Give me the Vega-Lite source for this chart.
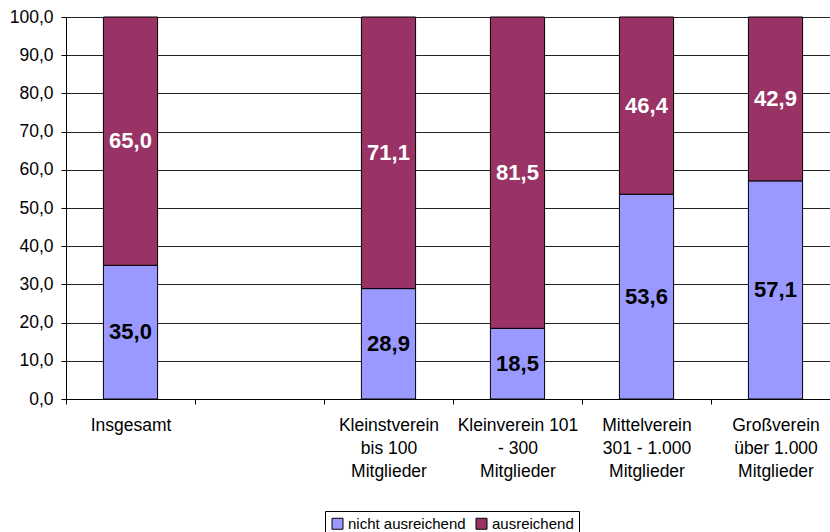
{
  "$schema": "https://vega.github.io/schema/vega-lite/v6.json",
  "width": 764,
  "height": 382,
  "autosize": {"type": "none"},
  "padding": {"left": 66, "top": 17, "right": 0, "bottom": 133},
  "config": {
    "locale": {"number": {"decimal": ",", "thousands": ".", "grouping": [3], "currency": ["", " €"]}},
    "view": {"stroke": null},
    "font": "Liberation Sans",
    "axis": {
      "labelFontSize": 17.5,
      "labelColor": "#000",
      "tickColor": "#000",
      "tickSize": 5,
      "domainColor": "#000",
      "labelOverlap": false,
      "title": null
    },
    "legend": {"labelFontSize": 15, "labelColor": "#000"}
  },
  "data": {
    "values": [
      {"cat": "Insgesamt", "series": "nicht ausreichend", "ord": 1, "value": 35.0},
      {"cat": "Insgesamt", "series": "ausreichend", "ord": 2, "value": 65.0},
      {"cat": "Kleinstverein|bis 100|Mitglieder", "series": "nicht ausreichend", "ord": 1, "value": 28.9},
      {"cat": "Kleinstverein|bis 100|Mitglieder", "series": "ausreichend", "ord": 2, "value": 71.1},
      {"cat": "Kleinverein 101|- 300|Mitglieder", "series": "nicht ausreichend", "ord": 1, "value": 18.5},
      {"cat": "Kleinverein 101|- 300|Mitglieder", "series": "ausreichend", "ord": 2, "value": 81.5},
      {"cat": "Mittelverein|301 - 1.000|Mitglieder", "series": "nicht ausreichend", "ord": 1, "value": 53.6},
      {"cat": "Mittelverein|301 - 1.000|Mitglieder", "series": "ausreichend", "ord": 2, "value": 46.4},
      {"cat": "Großverein|über 1.000|Mitglieder", "series": "nicht ausreichend", "ord": 1, "value": 57.1},
      {"cat": "Großverein|über 1.000|Mitglieder", "series": "ausreichend", "ord": 2, "value": 42.9}
    ]
  },
  "transform": [
    {"stack": "value", "groupby": ["cat"], "sort": [{"field": "ord", "order": "ascending"}], "as": ["v0", "v1"]},
    {"calculate": "(datum.v0 + datum.v1) / 2", "as": "mid"}
  ],
  "resolve": {"axis": {"x": "independent", "y": "independent"}},
  "layer": [
    {
      "mark": {"type": "bar", "stroke": "#000", "strokeWidth": 1},
      "encoding": {
        "x": {
          "field": "cat",
          "type": "nominal",
          "sort": null,
          "scale": {
            "domain": ["Insgesamt", " ", "Kleinstverein|bis 100|Mitglieder", "Kleinverein 101|- 300|Mitglieder", "Mittelverein|301 - 1.000|Mitglieder", "Großverein|über 1.000|Mitglieder"],
            "range": [0, 774],
            "paddingInner": 0.58,
            "paddingOuter": 0.29
          },
          "axis": {
            "labelAngle": 0,
            "labelExpr": "split(datum.label, '|')",
            "labelFontSize": 17.5,
            "labelLineHeight": 23,
            "labelPadding": 21,
            "labelBaseline": "middle",
            "tickOffset": -64.5,
            "labelOffset": 64.5,
            "grid": false
          }
        },
        "y": {
          "field": "v0",
          "type": "quantitative",
          "scale": {"domain": [0, 100], "nice": false},
          "axis": {
            "values": [0, 10, 20, 30, 40, 50, 60, 70, 80, 90, 100],
            "format": ".1f",
            "labelFontSize": 17.5,
            "labelPadding": 8,
            "grid": true,
            "gridColor": "#222",
            "gridWidth": 1
          }
        },
        "y2": {"field": "v1"},
        "color": {
          "field": "series",
          "type": "nominal",
          "scale": {"domain": ["nicht ausreichend", "ausreichend"], "range": ["#9999FF", "#993366"]},
          "legend": {
            "title": null,
            "orient": "none",
            "legendX": 259,
            "legendY": 494,
            "direction": "horizontal",
            "strokeColor": "#000",
            "fillColor": "#fff",
            "padding": 5,
            "symbolType": "square",
            "symbolSize": 121,
            "symbolStrokeColor": "#000",
            "symbolStrokeWidth": 1,
            "symbolOpacity": 1,
            "labelFontSize": 15,
            "columnPadding": 8,
            "labelOffset": 3
          }
        }
      }
    },
    {
      "mark": {"type": "text", "fontWeight": "bold", "fontSize": 22, "baseline": "middle"},
      "encoding": {
        "x": {"field": "cat", "type": "nominal", "sort": null, "axis": null},
        "y": {"field": "mid", "type": "quantitative", "axis": null},
        "text": {"field": "value", "type": "quantitative", "format": ".1f"},
        "color": {"condition": {"test": "datum.series === 'ausreichend'", "value": "#ffffff"}, "value": "#000000"}
      }
    }
  ]
}
